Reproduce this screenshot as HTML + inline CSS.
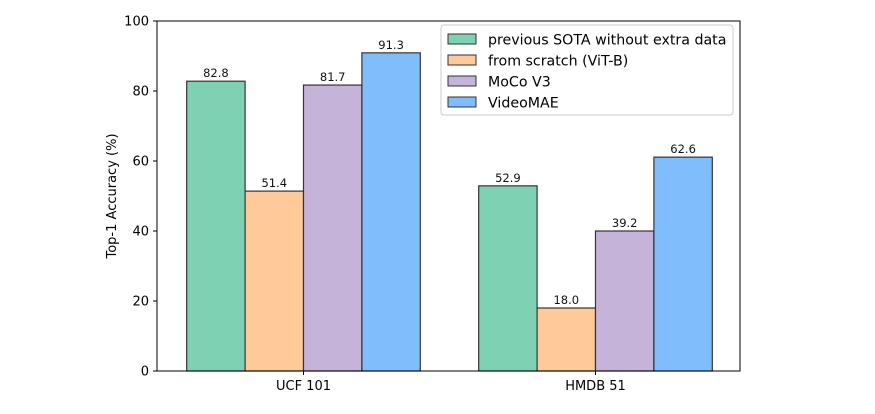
<!DOCTYPE html>
<html><head><meta charset="utf-8"><style>
body{margin:0;background:#fff;}
svg{font-family:"DejaVu Sans","Liberation Sans",sans-serif;}
</style></head><body>
<svg id="chart" width="875" height="409"></svg>
<script>
const categories=["UCF 101","HMDB 51"];
const seriesNames=["previous SOTA without extra data","from scratch (ViT-B)","MoCo V3","VideoMAE"];
const sotaValues=[82.8,52.9];
const scratchValues=[51.4,18.0];
const mocoValues=[81.7,40.0];
const videomaeValues=[90.9,61.1];
const sotaLabels=["82.8","52.9"];
const scratchLabels=["51.4","18.0"];
const mocoLabels=["81.7","39.2"];
const videomaeLabels=["91.3","62.6"];
const yTicks=[0,20,40,60,80,100];

const series=[sotaValues,scratchValues,mocoValues,videomaeValues];
const labels=[sotaLabels,scratchLabels,mocoLabels,videomaeLabels];
const colors=["#7fd1b3","#ffc999","#c5b3da","#80bdfc"];
const L=157,R=740,T=21,B=371;
const yS=v=>B-(v/100)*(B-T);
const groupX=i=>303.5+i*292;
const bw=58.4;
const svg=document.getElementById('chart');
const NS="http://www.w3.org/2000/svg";
function mk(tag,attrs,parent){const e=document.createElementNS(NS,tag);for(const k in attrs)e.setAttribute(k,attrs[k]);(parent||svg).appendChild(e);return e;}

series.forEach((vals,s)=>{
  vals.forEach((v,i)=>{
    const x=groupX(i)+(s-1.5)*bw-bw/2;
    const r=mk('rect',{x:x,y:yS(v),width:bw,height:B-yS(v),fill:colors[s],stroke:"#333","stroke-width":1.2});
    
    
    const t=mk('text',{x:x+bw/2,y:yS(v)-4,"text-anchor":"middle","font-size":"11.5",fill:"#111"});
    t.textContent=labels[s][i];
    
    
  });
});
const frame=mk('rect',{x:L,y:T,width:R-L,height:B-T,fill:"none",stroke:"#000","stroke-width":1});


yTicks.forEach(v=>{
  mk('line',{x1:L-4,x2:L,y1:yS(v),y2:yS(v),stroke:"#000"});
  const t=mk('text',{x:L-8,y:yS(v)+4.5,"text-anchor":"end","font-size":"13"});
  t.textContent=v;
  
  
});
categories.forEach((c,i)=>{
  mk('line',{x1:groupX(i),x2:groupX(i),y1:B,y2:B+4,stroke:"#000"});
  const t=mk('text',{x:groupX(i),y:B+19,"text-anchor":"middle","font-size":"13"});
  t.textContent=c;
  
  
});
const yt=mk('text',{x:0,y:0,transform:"translate(116,196) rotate(-90)","text-anchor":"middle","font-size":"13"});
yt.textContent="Top-1 Accuracy (%)";


const lg=mk('g',{});


mk('rect',{x:441,y:25,width:292,height:90,rx:3,fill:"#fff",stroke:"#ccc"},lg);
seriesNames.forEach((n,s)=>{
  const y=34+s*21;
  mk('rect',{x:448,y:y,width:28,height:10,fill:colors[s],stroke:"#333","stroke-width":1},lg);
  const t=mk('text',{x:488,y:y+10.5,"font-size":"14.2"},lg);
  t.textContent=n;
  
  
});
</script>
</body></html>
